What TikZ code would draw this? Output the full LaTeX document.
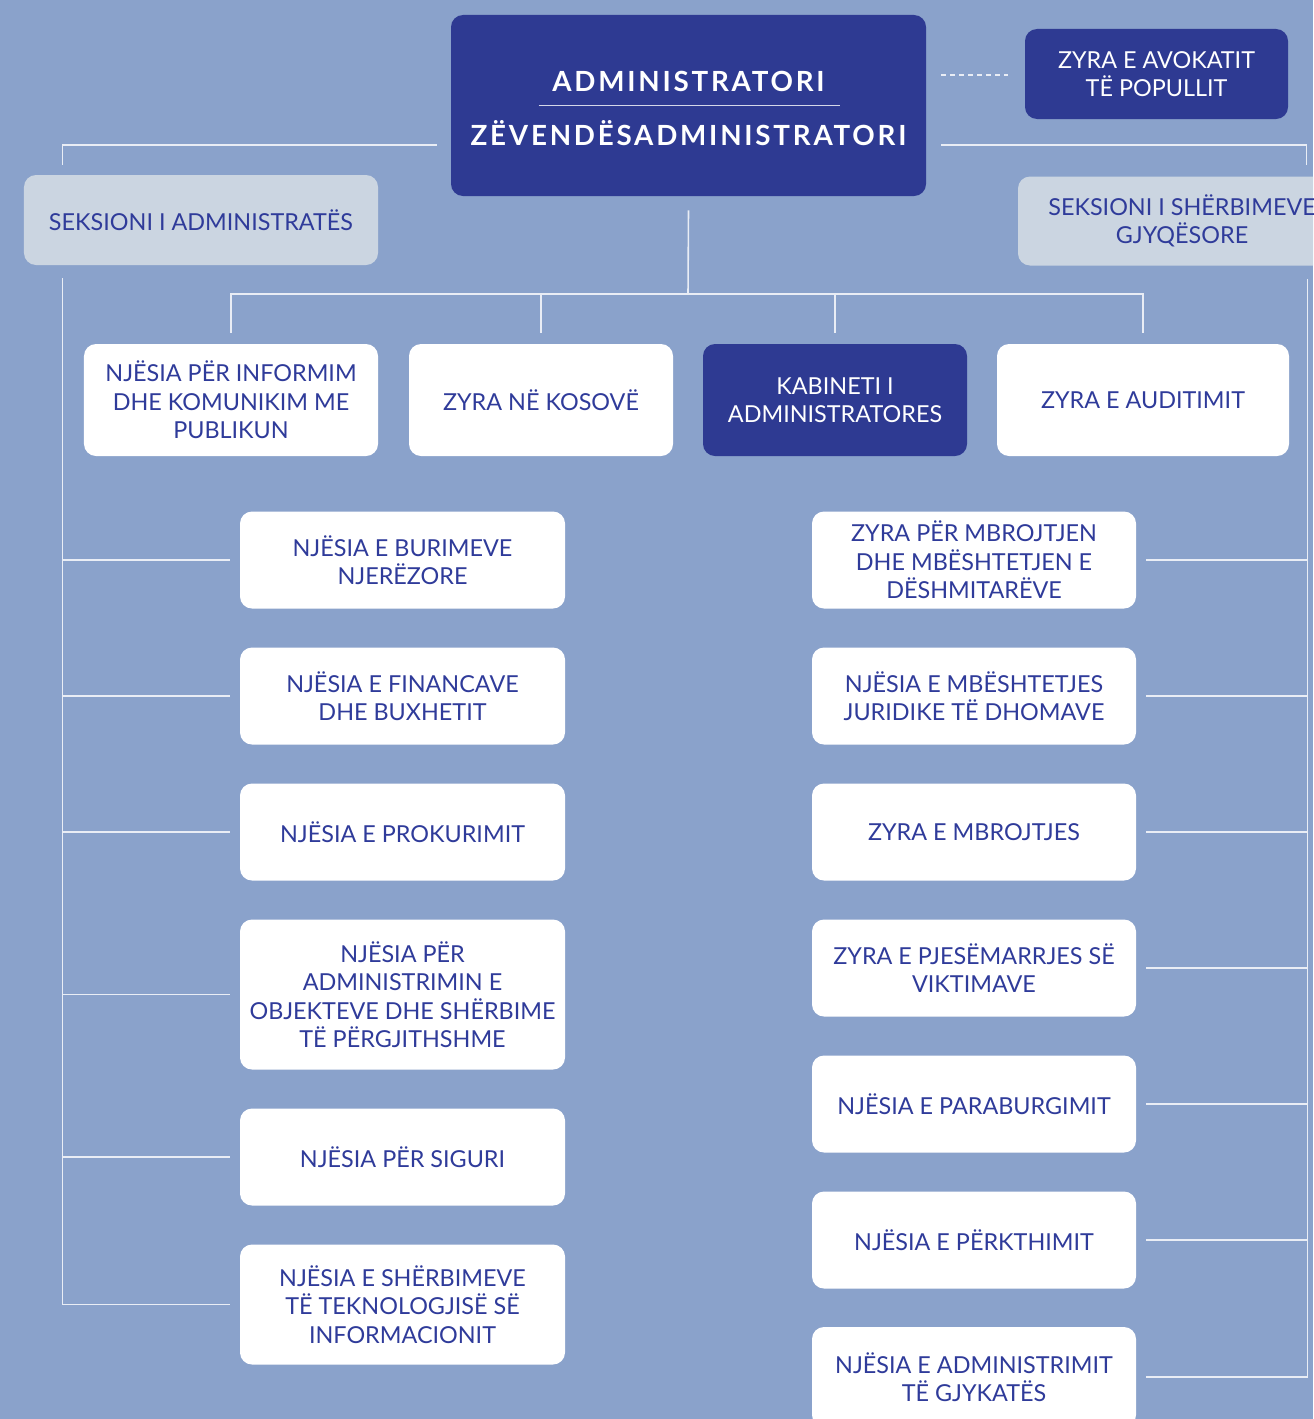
\documentclass[tikz,border=0pt]{standalone}
\usepackage{fontspec}
\setmainfont{Lato}
\newfontfamily\headfont{Lato}[LetterSpace=10]
\usetikzlibrary{calc,positioning}
\definecolor{bgblue}{HTML}{8AA2CB}
\definecolor{navy}{HTML}{2E3A92}
\definecolor{paleblue}{HTML}{CBD5E1}
\definecolor{linkgray}{HTML}{E9EDF5}
\definecolor{inkblue}{HTML}{2F3B9A}
\tikzset{%
  box/.style={rectangle, rounded corners=2.4mm, inner sep=0pt, align=center,
    font=\fontsize{13.3}{16.2}\selectfont},
  whitebox/.style={box, fill=white, text=inkblue},% unit boxes
  navybox/.style={box, fill=navy, text=white},% head offices
  palebox/.style={box, fill=paleblue, text=inkblue},% sections
  lbox/.style={whitebox, minimum width=65mm, minimum height=19.4mm},% left column
  rbox/.style={whitebox, minimum width=64.8mm, minimum height=19.4mm},% right column
  link/.style={draw=linkgray, line width=0.9pt},% organisation lines
  headtext/.style={text=white, inner sep=0pt,
    font=\headfont\bfseries\fontsize{15.8}{19}\selectfont}
}

\begin{document}
\begin{tikzpicture}[x=0.2mm, y=-0.2mm]
\useasboundingbox (0,0) rectangle (1313,1419);
\clip (0,0) rectangle (1313,1419);
\fill[bgblue] (0,0) rectangle (1313,1419);

% head
\node[navybox, minimum width=95mm, minimum height=36.2mm] (adm) at (688.5,105.5) {};
\node[headtext] (adm1) at (688.5,81) {ADMINISTRATORI};
\node[headtext] (adm2) at (688.5,133) {ZËVENDËSADMINISTRATORI};
\draw[white!80!navy, line width=1pt] ($(adm.center)+(-150,0)$) -- ($(adm.center)+(151,0)$);
\node[navybox, minimum width=52.6mm, minimum height=18mm] (av) at (1156.5,74) {ZYRA E AVOKATIT\\TË POPULLIT};

% sections
\node[palebox, minimum width=70.8mm, minimum height=18mm] (sa) at (201,220) {SEKSIONI I ADMINISTRATËS};
\node[palebox, minimum width=65.6mm, minimum height=17.8mm] (sg) at (1182,221) {SEKSIONI I SHËRBIMEVE\\GJYQËSORE};

% first row
\node[whitebox, minimum width=58.8mm, minimum height=22.4mm] (k1) at (231,400) {NJËSIA PËR INFORMIM\\DHE KOMUNIKIM ME\\PUBLIKUN};
\node[whitebox, minimum width=52.8mm, minimum height=22.4mm] (k2) at (541,400) {ZYRA NË KOSOVË};
\node[navybox, minimum width=52.8mm, minimum height=22.4mm] (k3) at (835,400) {KABINETI I\\ADMINISTRATORES};
\node[whitebox, minimum width=58.4mm, minimum height=22.4mm] (k4) at (1143,400) {ZYRA E AUDITIMIT};

% left column
\node[lbox] (l1) at (402.5,560) {NJËSIA E BURIMEVE\\NJERËZORE};
\node[lbox] (l2) at (402.5,696) {NJËSIA E FINANCAVE\\DHE BUXHETIT};
\node[lbox] (l3) at (402.5,832) {NJËSIA E PROKURIMIT};
\node[lbox, minimum height=30mm] (l4) at (402.5,994.5) {NJËSIA PËR\\ADMINISTRIMIN E\\OBJEKTEVE DHE SHËRBIME\\TË PËRGJITHSHME};
\node[lbox] (l5) at (402.5,1157) {NJËSIA PËR SIGURI};
\node[lbox, minimum height=24mm] (l6) at (402.5,1304.5) {NJËSIA E SHËRBIMEVE\\TË TEKNOLOGJISË SË\\INFORMACIONIT};

% right column
\node[rbox] (r1) at (974,560) {ZYRA PËR MBROJTJEN\\DHE MBËSHTETJEN E\\DËSHMITARËVE};
\node[rbox] (r2) at (974,696) {NJËSIA E MBËSHTETJES\\JURIDIKE TË DHOMAVE};
\node[rbox] (r3) at (974,832) {ZYRA E MBROJTJES};
\node[rbox] (r4) at (974,968) {ZYRA E PJESËMARRJES SË\\VIKTIMAVE};
\node[rbox] (r5) at (974,1104) {NJËSIA E PARABURGIMIT};
\node[rbox] (r6) at (974,1240) {NJËSIA E PËRKTHIMIT};
\node[rbox, minimum height=20mm] (r7) at (974,1377) {NJËSIA E ADMINISTRIMIT\\TË GJYKATËS};

% lines from the head
\draw[link, dash pattern=on 1mm off 0.8mm] ($(adm.east)+(15,-30.5)$) -- ($(av.west)+(-17,1)$);
\draw[link] ($(adm.west)+(-14,39.5)$) -| ($(sa.north west)+(39,-10)$);
\draw[link] ($(adm.east)+(15,39.5)$) -| ($(sg.north west)+(289,-11)$);
\coordinate (hub) at (688,294);
\draw[link] ($(adm.south)+(0,14)$) -- (hub);
\foreach \n in {k1,k2,k3,k4}
  \draw[link] ($(\n.north)+(0,-11)$) |- (hub);

% left trunk
\coordinate (lx) at ($(sa.south west)+(39,13)$);
\draw[link] (lx) |- ($(l6.west)+(-10,0)$);
\foreach \n in {l1,l2,l3,l4,l5}
  \draw[link] ($(\n.west)+(-10,0)$) -- (lx |- \n.west);

% right trunk
\coordinate (rx) at ($(sg.south west)+(290,13)$);
\draw[link] (rx) |- ($(r7.east)+(10,0)$);
\foreach \n in {r1,r2,r3,r4,r5,r6}
  \draw[link] ($(\n.east)+(10,0)$) -- (rx |- \n.east);

\end{tikzpicture}
\end{document}
